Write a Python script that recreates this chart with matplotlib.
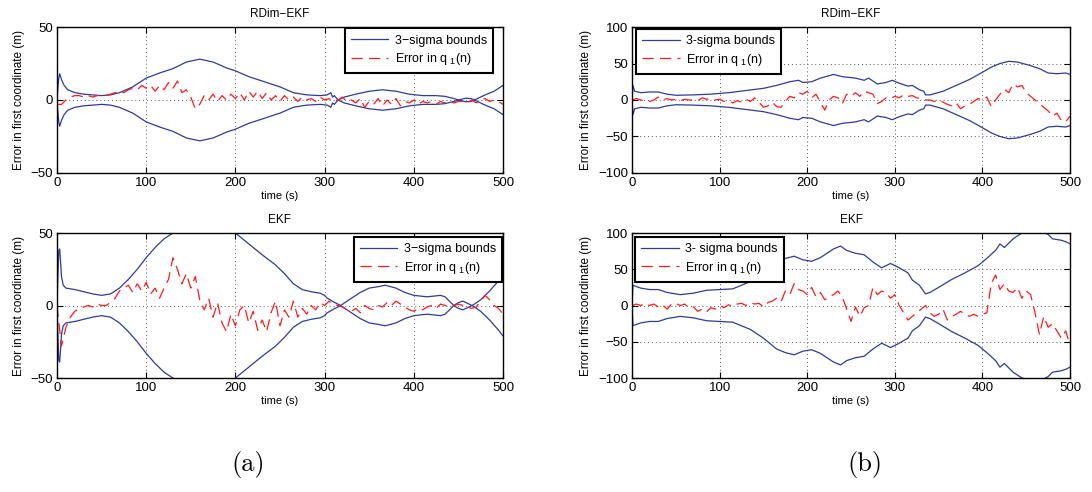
import numpy as np
import matplotlib
matplotlib.use("Agg")
import matplotlib.pyplot as plt

plt.rcParams["font.family"] = ["Liberation Sans", "DejaVu Sans"]
plt.rcParams["mathtext.fontset"] = "custom"
plt.rcParams["mathtext.rm"] = "Liberation Sans"
plt.rcParams["mathtext.it"] = "Liberation Sans"

AZUL = "#2d3c9b"
ROJO = "#ff1a1a"

# ── (a) RDim-EKF ──────────────────────────────────────────────────────────────
t_sig_a1 = [0, 1, 2, 3, 5, 8, 12, 20, 30, 50, 60, 70, 85, 100, 115, 130, 145, 160,
            175, 190, 200, 215, 230, 250, 265, 280, 295, 303, 307, 309, 311, 315,
            322, 335, 350, 365, 380, 395, 410, 425, 435, 445, 450, 458, 464, 468,
            480, 490, 500]
sig_a1 = [0, 8, 15, 18, 14, 10, 7, 5, 4, 3, 3.5, 5, 9, 15, 18.5, 21.5, 26, 28,
          26, 22, 20, 16, 13, 9, 5, 3.5, 3, 3.5, 5, 2, 3, 0,
          -2, -4, -6, -7, -6, -4, -3, -3, -2.5, -1, 0, 1.2, 1, 0,
          -3.5, -6, -10]

t_err = list(range(0, 505, 5))
err_a1 = [-3, -3, 0, 2, 3, 3, 2, 3, 2, 3, 3, 3, 4, 5, 6, 5, 7, 8, 7, 10,
          8, 10, 6, 10, 7, 12, 8, 13, 5, 7, 2, -6, -3, 3, 0, 4, -1, 3, 0, 4,
          1, 5, 0, 6, 2, 6, 1, 5, 0, 3, -1, 3, 0, 2, -1, 2, 0, 1, -1, 2,
          0, 1, -1, 0, 2, -1, 0, -2, 1, -5, -1, -3, 1, -4, 0, -3, 1, -4, -1, -2,
          0, -3, -1, -2, -1, -3, -1, -2, -1, -2, -1, -1, -2, 0, -2, 0, 1, -1, 0, -1,
          -3]

# ── (a) EKF ───────────────────────────────────────────────────────────────────
t_sig_a2 = [0, 1, 2, 3, 4, 5, 7, 10, 20, 30, 40, 50, 60, 70, 80, 90, 100, 110,
            120, 130, 150, 165, 180, 195, 200, 210, 220, 230, 245, 255, 265, 275,
            285, 295, 300, 303, 306, 310, 318, 330, 340, 350, 360, 368, 380, 390,
            400, 415, 430, 435, 445, 450, 455, 462, 468, 475, 485, 495, 500]
sig_a2 = [0, 20, 38, 39, 30, 20, 14, 12, 11, 9.5, 8, 7, 8, 12, 18, 25, 33, 40,
          46, 50, 57, 60, 58, 52, 50, 45, 40, 35, 28, 22, 15, 11,
          9.5, 8.5, 7, 5, 4, 2.5, 0, -5, -9, -12, -13, -14, -12, -9,
          -7, -6, -7, -6, 0, 2, 3, 1, -1, -4, -10, -17, -21]

err_a2 = [0, -28, -15, -8, -4, -2, -1, 0, -1, 1, 0, 0, 2, 5, 10, 12, 14, 9, 15, 10,
          16, 8, 12, 5, 12, 18, 33, 25, 15, 22, 12, 20, 4, -3, 5, -8, 2, -12, -18, -6,
          -14, -3, 0, -12, -4, -17, -10, -18, -5, 3, -14, -3, -8, 3, -8, -2, -6, 0, -3, 2,
          0, 3, 1, 0, -1, -3, -4, -2, -5, 0, -2, -3, 0, -1, 2, 0, 3, 1, -1, -3,
          -4, -2, -3, -1, 0, -2, 1, 0, -1, 0, 1, 0, -1, -2, -1, 3, 7, 4, 0, -2,
          -6]

# ── (b) RDim-EKF ──────────────────────────────────────────────────────────────
t_sig_b1 = [0, 1, 3, 10, 20, 30, 40, 50, 70, 90, 110, 130, 150, 165, 180, 190,
            195, 205, 215, 230, 240, 255, 265, 270, 280, 290, 297, 305, 315, 320,
            328, 333, 335, 340, 355, 370, 385, 400, 410, 420, 430, 440, 455, 465,
            475, 485, 495, 500]
sig_b1 = [0, 20, 12, 10, 11, 11, 8, 6.5, 7, 8, 10, 13, 16, 20, 25, 27,
          24, 25, 30, 35, 32, 30, 27, 30, 22, 24, 27, 23, 19, 20,
          14, 12, 7, 7, 12, 20, 28, 38, 45, 50, 53, 52, 47, 43,
          37, 36, 37, 35]

err_b1 = [0, 2, 0, -1, -2, 0, 4, 0, 2, 0, 1, -1, 1, 0, 0, -1, 3, 1, 2, 0,
          1, -2, -1, -4, -1, -3, 1, -2, 3, -3, -10, -8, -3, -9, -10, -2, 5, 3, 10, 8,
          12, 3, 8, -3, -14, 0, 5, 3, -5, 8, 5, 10, 5, 12, 10, 8, -5, -2, 3, 2,
          5, 3, 7, 5, 6, 3, 2, 0, 0, -2, 0, -3, -6, -8, -4, -12, -8, -6, -2, 2,
          0, 4, -9, 0, 8, 15, 10, 22, 18, 20, 10, 5, 0, -5, -10, -15, -22, -18, -28, -30,
          -22]

# ── (b) EKF ───────────────────────────────────────────────────────────────────
t_sig_b2 = [0, 1, 3, 10, 20, 30, 40, 55, 70, 85, 100, 115, 125, 135, 150, 165,
            175, 185, 195, 205, 215, 230, 238, 245, 255, 265, 275, 285, 295, 305,
            315, 320, 328, 335, 340, 350, 365, 380, 395, 405, 415, 420, 425, 435,
            445, 455, 465, 475, 480, 490, 495, 500]
sig_b2 = [0, 28, 27, 24, 22, 22, 18, 15, 17, 21, 22, 23, 28, 33, 45, 60,
          65, 68, 63, 61, 66, 78, 82, 76, 72, 70, 60, 52, 58, 52,
          45, 35, 28, 16, 18, 25, 36, 45, 55, 65, 76, 85, 80, 92,
          100, 103, 104, 98, 92, 90, 88, 85]

err_b2 = [0, 2, 0, 3, 0, 2, -2, 1, -5, 2, 3, 0, 2, -3, -2, -8, -5, -9, -3, -5,
          0, -3, 1, -1, 2, 3, 0, 4, 2, 3, -2, 4, 6, 10, 5, 20, 15, 30, 22, 20,
          15, 25, 12, 18, 8, 12, 15, 20, 12, -5, -22, -2, -15, -3, 0, 25, 15, 20, 18, 10,
          15, 0, -10, -20, -15, -10, -5, 0, -10, -15, -12, -5, -20, -15, -12, -8, -12, -15, -12, -15,
          -12, -10, 30, 42, 22, 30, 20, 18, 25, 10, 20, 15, -10, -40, -15, -30, -25, -35, -45, -35,
          -55]

paneles = [
    # posición, título, t_sig, sig, err, ylim, yticks, loc, ancla, etiqueta
    ([0.0522, 0.6484, 0.4084, 0.2967], "RDim\u2212EKF", t_sig_a1, sig_a1, err_a1,
     50, [-50, 0, 50], "upper right", (0.978, 0.99), "3\u2212sigma bounds"),
    ([0.0522, 0.2317, 0.4084, 0.2947], "EKF", t_sig_a2, sig_a2, err_a2,
     50, [-50, 0, 50], "upper right", (0.998, 0.972), "3\u2212sigma bounds"),
    ([0.5788, 0.6484, 0.4011, 0.2967], "RDim\u2212EKF", t_sig_b1, sig_b1, err_b1,
     100, [-100, -50, 0, 50, 100], "upper left", (0.009, 0.986), "3-sigma bounds"),
    ([0.5788, 0.2317, 0.4011, 0.2947], "EKF", t_sig_b2, sig_b2, err_b2,
     100, [-100, -50, 0, 50, 100], "upper left", (0.007, 0.972), "3- sigma bounds"),
]

fig = plt.figure(figsize=(10.92, 4.92), dpi=100)

for pos, titulo, ts, sig, err, ylim, yticks, loc, ancla, etiqueta in paneles:
    ax = fig.add_axes(pos)
    sig = np.array(sig)
    ax.plot(ts, sig, color=AZUL, linewidth=0.9, label=etiqueta)
    ax.plot(ts, -sig, color=AZUL, linewidth=0.9)
    ax.plot(t_err, err, color=ROJO, linewidth=0.9, dashes=(9, 5),
            label="Error in q $_{1}$(n)")
    ax.set_xlim(0, 500)
    ax.set_ylim(-ylim, ylim)
    ax.set_xticks([0, 100, 200, 300, 400, 500])
    ax.set_yticks(yticks)
    ax.grid(True, linestyle=(0, (1, 3)), color="#555555", linewidth=0.7)
    ax.tick_params(direction="in", length=4, labelsize=9.5, top=True, right=True,
                   pad=3)
    for sp in ax.spines.values():
        sp.set_linewidth(1.0)
    ax.set_title(titulo, fontsize=8.5, pad=7)
    ax.set_xlabel("time (s)", fontsize=8, labelpad=1)
    ax.set_ylabel("Error in first coordinate (m)", fontsize=8.5, labelpad=4)
    leg = ax.legend(loc=loc, bbox_to_anchor=ancla, fontsize=9, handlelength=3.0,
                    handletextpad=0.5, fancybox=False, framealpha=1,
                    edgecolor="black", borderaxespad=0, borderpad=0.5,
                    labelspacing=0.35)
    leg.get_frame().set_linewidth(1.5)

fig.text(0.227, 0.055, "(a)", fontsize=19, family="cmr10", ha="center", va="center")
fig.text(0.792, 0.055, "(b)", fontsize=19, family="cmr10", ha="center", va="center")

plt.savefig("out.png", dpi=100)
